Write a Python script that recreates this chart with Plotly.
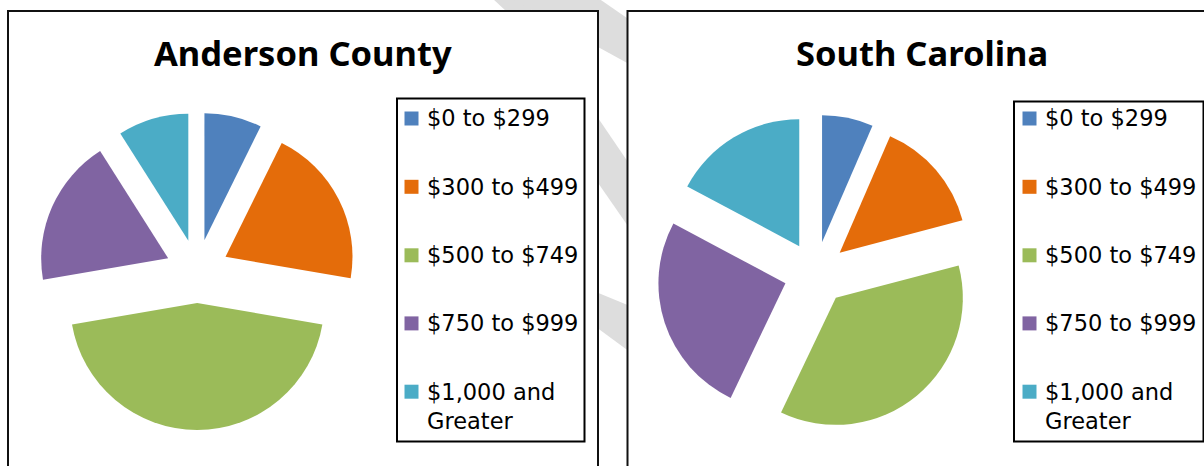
import plotly.graph_objects as go

# Monthly gross rent distribution (% of renter households)
categories = ["$0 to $299", "$300 to $499", "$500 to $749", "$750 to $999", "$1,000 and Greater"]
anderson_pct = [7.3, 20.4, 44.6, 18.7, 9.0]
south_carolina_pct = [6.5, 14.4, 36.2, 25.7, 17.2]
titles = ["Anderson County", "South Carolina"]
colors = ["#4F81BD", "#E46C0A", "#9BBB59", "#8064A2", "#4BACC6"]

W, H = 1204, 466


def px(x):
    return x / W


def py(y):
    return 1 - y / H


fig = go.Figure()

panels = [
    dict(values=anderson_pct, title=titles[0], cx=197.2, cy=271.2,
         box=(8, 11, 598, 475), title_x=303,
         legend=(397, 98.5, 584.5, 441.5), sq_x=404.5, txt_x=424.5),
    dict(values=south_carolina_pct, title=titles[1], cx=815.6, cy=273.4,
         box=(627.5, 11, 1222, 475), title_x=922,
         legend=(1014, 101.5, 1203.5, 441.5), sq_x=1022.5, txt_x=1042.5),
]
item_y = [118.5, 186.8, 255.3, 323.4, 391.7]
pull = 0.25
radius = 127
half = radius * (1 + pull)

shapes = []

# light grey background swooshes
grey = "#dddddd"
bands = [
    [(492, -2), (519, -2), (534, 12), (507, 12)],
    [(510, -2), (598, -2), (640, 27), (640, 70), (598, 47)],
    [(596, 115), (630, 165), (630, 229), (596, 180)],
    [(596, 292), (630, 306), (630, 352), (596, 327)],
]
for poly in bands:
    path = "M " + " L ".join(f"{px(x)},{py(y)}" for x, y in poly) + " Z"
    shapes.append(dict(type="path", xref="paper", yref="paper", path=path,
                       fillcolor=grey, line=dict(width=0), layer="below"))

annotations = []
for p in panels:
    x0, y0, x1, y1 = p["box"]
    shapes.append(dict(type="rect", xref="paper", yref="paper",
                       x0=px(x0), x1=px(x1), y0=py(y1), y1=py(y0),
                       fillcolor="white", line=dict(color="#111111", width=2),
                       layer="below"))
    fig.add_trace(go.Pie(
        labels=categories, values=p["values"], sort=False,
        direction="clockwise", rotation=0, pull=[pull] * len(categories),
        marker=dict(colors=colors, line=dict(width=0)),
        textinfo="none", showlegend=False, hoverinfo="label+percent",
        domain=dict(x=[px(p["cx"] - half), px(p["cx"] + half)],
                    y=[py(p["cy"] + half), py(p["cy"] - half)]),
    ))
    annotations.append(dict(
        text="<b>" + p["title"] + "</b>", x=px(p["title_x"]), y=py(53),
        xref="paper", yref="paper", xanchor="center", yanchor="middle",
        showarrow=False, font=dict(family="Noto Sans", size=34.5, color="black"),
    ))
    lx0, ly0, lx1, ly1 = p["legend"]
    shapes.append(dict(type="rect", xref="paper", yref="paper",
                       x0=px(lx0), x1=px(lx1), y0=py(ly1), y1=py(ly0),
                       fillcolor="white", line=dict(color="black", width=2),
                       layer="below"))
    sq = 14
    for cat, col, yc in zip(categories, colors, item_y):
        shapes.append(dict(type="rect", xref="paper", yref="paper",
                           x0=px(p["sq_x"]), x1=px(p["sq_x"] + sq),
                           y0=py(yc + sq / 2), y1=py(yc - sq / 2),
                           fillcolor=col, line=dict(width=0), layer="below"))
        label = cat.replace(" and ", " and<br>")
        n_lines = label.count("<br>") + 1
        annotations.append(dict(
            text=label, x=px(p["txt_x"]), y=py(yc + (n_lines - 1) * 14.6),
            xref="paper", yref="paper", xanchor="left", yanchor="middle",
            align="left", showarrow=False,
            font=dict(family="DejaVu Sans", size=22.5, color="black"),
        ))

fig.update_layout(
    width=W, height=H, margin=dict(l=0, r=0, t=0, b=0),
    paper_bgcolor="white", plot_bgcolor="white",
    shapes=shapes, annotations=annotations, showlegend=False,
)

fig.write_html("out.html")
